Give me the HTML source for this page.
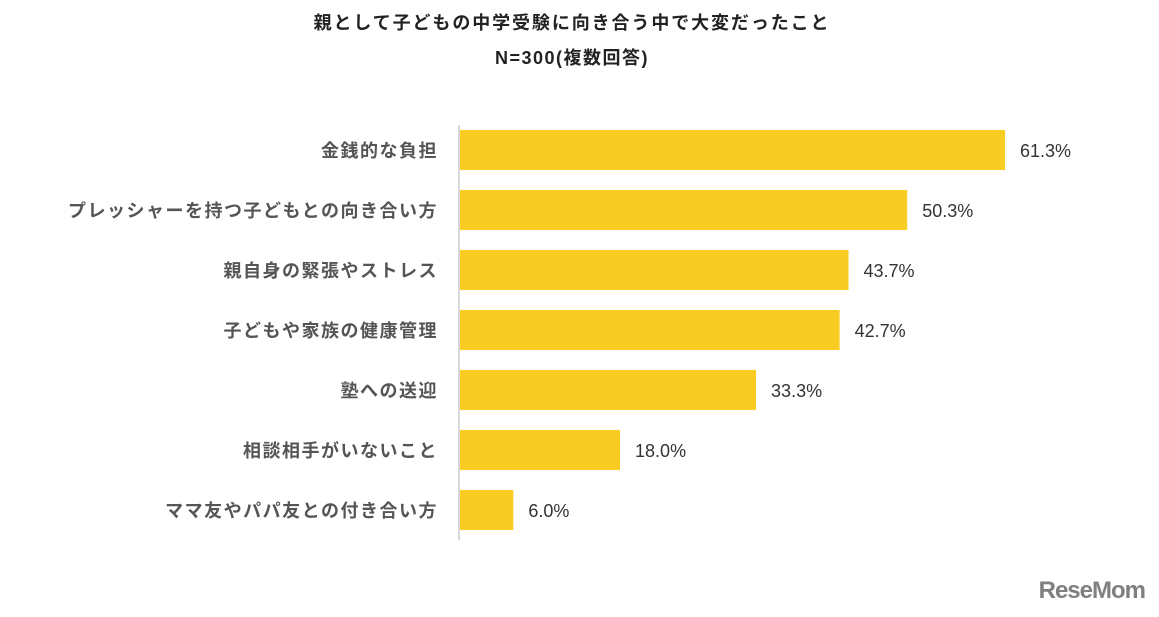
<!DOCTYPE html>
<html><head><meta charset="utf-8"><style>
body{margin:0;background:#fff;width:1159px;height:612px;overflow:hidden;font-family:"Liberation Sans","Noto Sans CJK JP",sans-serif}
</style></head><body>
<svg id="chart" width="1159" height="612" xmlns="http://www.w3.org/2000/svg">
<text x="572" y="29" text-anchor="middle" font-size="18" font-weight="bold" letter-spacing="1.9" fill="#222" font-family="Liberation Sans, Noto Sans CJK JP, sans-serif">親として子どもの中学受験に向き合う中で大変だったこと</text>
<text x="572" y="64" text-anchor="middle" font-size="18" font-weight="bold" letter-spacing="1.5" fill="#222" font-family="Liberation Sans, Noto Sans CJK JP, sans-serif">N=300(複数回答)</text>
<line x1="459" y1="125" x2="459" y2="540" stroke="#ccc" stroke-width="1.5"/>
<g id="bars"></g>
<text x="1145" y="598" text-anchor="end" font-size="24" font-weight="bold" fill="#808080" letter-spacing="-1">ReseMom</text>
</svg>
<script>
const categories=["金銭的な負担","プレッシャーを持つ子どもとの向き合い方","親自身の緊張やストレス","子どもや家族の健康管理","塾への送迎","相談相手がいないこと","ママ友やパパ友との付き合い方"];
const values=[61.3,50.3,43.7,42.7,33.3,18.0,6.0];
const valueLabels=["61.3%","50.3%","43.7%","42.7%","33.3%","18.0%","6.0%"];
const x0=460, scaleX=545/61.3, topY=130, stepY=60, bh=40;
const xPos=v=>x0+v*scaleX;
const g=document.getElementById('bars');
const ns="http://www.w3.org/2000/svg";
categories.forEach((c,i)=>{
 const y=topY+i*stepY;
 const r=document.createElementNS(ns,'rect');
 r.setAttribute('x',x0);r.setAttribute('y',y);r.setAttribute('width',xPos(values[i])-x0);r.setAttribute('height',bh);r.setAttribute('fill','#F9CC24');
 
 
 g.appendChild(r);
 const t=document.createElementNS(ns,'text');
 t.setAttribute('x',438);t.setAttribute('y',y+27);t.setAttribute('text-anchor','end');t.setAttribute('font-size','18');t.setAttribute('letter-spacing','1.5');t.setAttribute('font-weight','bold');t.setAttribute('fill','#555');
 t.textContent=c;
 
 
 g.appendChild(t);
 const v=document.createElementNS(ns,'text');
 v.setAttribute('x',xPos(values[i])+15);v.setAttribute('y',y+27);v.setAttribute('font-size','18');v.setAttribute('fill','#333');
 v.textContent=valueLabels[i];
 
 
 g.appendChild(v);
});
</script>
</body></html>
